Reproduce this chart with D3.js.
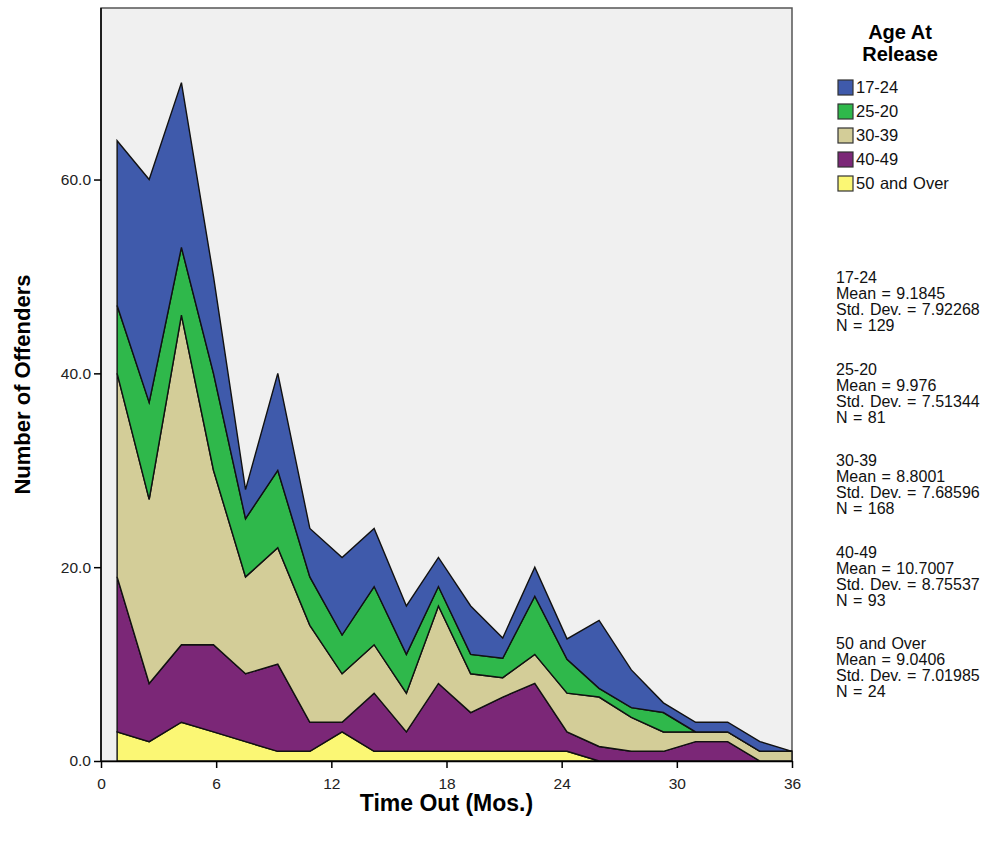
<!DOCTYPE html>
<html>
<head>
<meta charset="utf-8">
<script src="https://cdn.jsdelivr.net/npm/d3@7"></script>
<style>
  body { margin: 0; background: #ffffff; }
  svg { display: block; font-family: "Liberation Sans", Arial, sans-serif; }
</style>
</head>
<body>
<div id="chart"></div>
<script>
// months (x position of each point)
const months = [0.84, 2.51, 4.19, 5.86, 7.53, 9.21, 10.88, 12.56, 14.23, 15.91, 17.58,
                19.26, 20.93, 22.60, 24.28, 25.95, 27.63, 29.30, 30.98, 32.65, 34.33, 36.00];

// offenders per age group (not stacked)
const age50 = [3, 2, 4, 3, 2, 1, 1, 3, 1, 1, 1, 1, 1, 1, 1, 0, 0, 0, 0, 0, 0, 0];
const age40 = [16, 6, 8, 9, 7, 9, 3, 1, 6, 2, 7, 4, 5.6, 7, 2, 1.5, 1, 1, 2, 2, 0, 0];
const age30 = [21, 19, 34, 18, 10, 12, 10, 5, 5, 4, 8, 4, 2, 3, 4, 5.1, 3.5, 2, 1, 1, 1, 1];
const age25 = [7, 10, 7, 10, 6, 8, 5, 4, 6, 4, 2, 2, 2, 6, 3.5, 0.9, 1, 2, 0, 0, 0, 0];
const age17 = [17, 23, 17, 10, 3, 10, 5, 8, 6, 5, 3, 5, 2.1, 3, 2.1, 7, 3.9, 1, 1, 1, 1, 0];

const groups = ["17-24", "25-20", "30-39", "40-49", "50 and Over"];
const colors = ["#3f5aab", "#2fb84b", "#d3cd98", "#7b2777", "#fbf774"];

const xTicks = [0, 6, 12, 18, 24, 30, 36];
const yTicks = [0, 20, 40, 60];

const stats = [
  ["17-24", "Mean = 9.1845", "Std. Dev. = 7.92268", "N = 129"],
  ["25-20", "Mean = 9.976", "Std. Dev. = 7.51344", "N = 81"],
  ["30-39", "Mean = 8.8001", "Std. Dev. = 7.68596", "N = 168"],
  ["40-49", "Mean = 10.7007", "Std. Dev. = 8.75537", "N = 93"],
  ["50 and Over", "Mean = 9.0406", "Std. Dev. = 7.01985", "N = 24"]
];

const W = 1005, H = 841;
const plot = {left: 101, right: 792, top: 8, bottom: 761};

const svg = d3.select("#chart").append("svg")
  .attr("width", W)
  .attr("height", H);

const x = d3.scaleLinear().domain([0, 36]).range([plot.left, plot.right]);
const y = d3.scaleLinear().domain([0, 77.7]).range([plot.bottom, plot.top]);

// plot background
svg.append("rect")
  .attr("x", plot.left)
  .attr("y", plot.top)
  .attr("width", plot.right - plot.left)
  .attr("height", plot.bottom - plot.top)
  .attr("fill", "#f0f0f0")
  .attr("stroke", "#555")
  .attr("stroke-width", 1.5);

// stack bottom to top: 50 and Over first
const table = months.map((m, i) => ({
  m: m,
  "50 and Over": age50[i],
  "40-49": age40[i],
  "30-39": age30[i],
  "25-20": age25[i],
  "17-24": age17[i]
}));
const keys = groups.slice().reverse();
const stacked = d3.stack().keys(keys)(table);
const color = d3.scaleOrdinal().domain(groups).range(colors);

const area = d3.area()
  .x(d => x(d.data.m))
  .y0(d => y(d[0]))
  .y1(d => y(d[1]));

svg.append("g")
  .selectAll("path")
  .data(stacked)
  .join("path")
  .attr("d", area)
  .attr("fill", d => color(d.key))
  .attr("stroke", "#111")
  .attr("stroke-width", 1.4)
  .attr("stroke-linejoin", "miter");

// axes
const xAxis = svg.append("g")
  .attr("transform", `translate(0,${plot.bottom})`)
  .call(d3.axisBottom(x).tickValues(xTicks).tickSize(7).tickSizeOuter(0).tickFormat(d3.format("d")));
const yAxis = svg.append("g")
  .attr("transform", `translate(${plot.left},0)`)
  .call(d3.axisLeft(y).tickValues(yTicks).tickSize(7).tickSizeOuter(0).tickFormat(d3.format(".1f")));

[xAxis, yAxis].forEach(a => {
  a.select(".domain").attr("stroke", "#000").attr("stroke-width", 1.5);
  a.selectAll(".tick line").attr("stroke", "#000").attr("stroke-width", 1.5);
  a.selectAll("text")
    .attr("fill", "#222")
    .style("font-family", "'Liberation Sans', Arial, sans-serif")
    .style("font-size", "15.5px");
});
xAxis.selectAll("text").attr("y", 17).attr("dy", "0.71em");
yAxis.select(".domain").attr("d", `M0,${plot.bottom}V${plot.top}`);

// axis titles
svg.append("text")
  .attr("x", (plot.left + plot.right) / 2)
  .attr("y", 811)
  .attr("text-anchor", "middle")
  .style("font-size", "23px")
  .style("font-weight", "bold")
  .text("Time Out (Mos.)");

svg.append("text")
  .attr("transform", `translate(30,${(plot.top + plot.bottom) / 2}) rotate(-90)`)
  .attr("text-anchor", "middle")
  .style("font-size", "22px")
  .style("font-weight", "bold")
  .text("Number of Offenders");

// legend
const legend = svg.append("g");
legend.append("text")
  .attr("x", 900).attr("y", 39)
  .attr("text-anchor", "middle")
  .style("font-size", "20px")
  .style("font-weight", "bold")
  .text("Age At");
legend.append("text")
  .attr("x", 900).attr("y", 61)
  .attr("text-anchor", "middle")
  .style("font-size", "20px")
  .style("font-weight", "bold")
  .text("Release");

legend.selectAll("rect")
  .data(groups)
  .join("rect")
  .attr("x", 838)
  .attr("y", (d, i) => 80 + i * 24)
  .attr("width", 15)
  .attr("height", 15)
  .attr("fill", d => color(d))
  .attr("stroke", "#333")
  .attr("stroke-width", 1.2);

legend.selectAll("text.item")
  .data(groups)
  .join("text")
  .attr("class", "item")
  .attr("x", 856)
  .attr("y", (d, i) => 93 + i * 24)
  .style("font-size", "16.5px")
  .style("word-spacing", "1px")
  .attr("fill", "#111")
  .text(d => d);

// statistics text
const st = svg.append("g");
stats.forEach((lines, k) => {
  lines.forEach((t, j) => {
    st.append("text")
      .attr("x", 836)
      .attr("y", 283 + k * 91.5 + j * 16)
      .style("font-size", "16px")
      .style("word-spacing", "1px")
      .attr("fill", "#111")
      .text(t);
  });
});
</script>
</body>
</html>
